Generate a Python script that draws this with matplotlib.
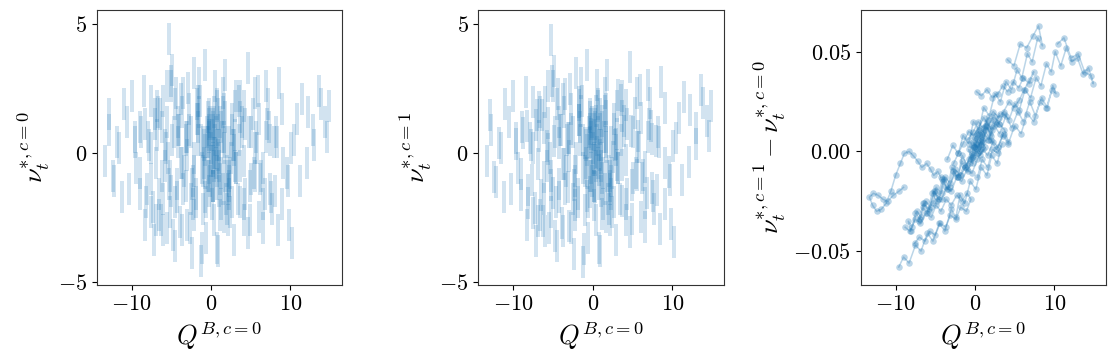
import matplotlib
matplotlib.use("Agg")
import matplotlib.pyplot as plt
import numpy as np
from matplotlib.ticker import MultipleLocator

plt.rcParams["font.family"] = "serif"
plt.rcParams["font.serif"] = ["cmr10"]
plt.rcParams["mathtext.fontset"] = "cm"
plt.rcParams["axes.formatter.use_mathtext"] = True

steps_per_path = 25

q_b = [
    0.0, 0.3, -0.2, 0.5, 0.8, 0.4, 1.0, 1.3, 0.9, 0.2, -0.4, -0.8, -0.3, 0.1, 0.6, 1.2, 1.8, 2.3, 1.9, 1.4, 0.7, 0.0, -0.5, -0.1, 0.4,
    -2.5, -3.1, -3.8, -4.2, -4.9, -5.3, -5.0, -5.6, -6.2, -6.8, -7.3, -7.9, -8.4, -8.1, -7.5, -6.9, -6.4, -5.8, -5.1, -4.6, -4.0, -3.4, -2.8, -2.2, -1.6,
    3.0, 3.6, 4.3, 5.0, 5.6, 6.3, 7.0, 7.7, 8.3, 9.0, 9.6, 10.1, 10.8, 11.5, 12.2, 12.9, 13.6, 14.3, 14.9, 14.6, 13.8, 13.0, 12.1, 11.2, 10.4,
    -9.0, -9.6, -10.3, -11.0, -11.6, -12.2, -12.8, -13.3, -12.9, -12.4, -11.8, -11.2, -10.6, -10.0, -9.4, -8.9, -8.3, -7.8, -7.2, -6.7, -6.1, -5.6, -5.2, -4.7, -4.3,
    -9.6, -9.0, -8.3, -7.5, -6.8, -6.0, -5.3, -4.5, -3.8, -3.0, -2.4, -1.9, -1.3, -0.6, 0.1, 0.8, 1.5, 2.1, 2.8, 3.4, 2.9, 2.2, 1.6, 0.9, 0.3,
    -3.5, -2.8, -2.1, -1.5, -0.8, -0.2, 0.5, 1.1, 1.8, 2.5, 3.2, 3.9, 4.6, 5.3, 5.9, 6.6, 7.2, 7.9, 8.5, 8.0, 7.3, 6.5, 5.7, 4.9, 4.1,
    1.0, 1.7, 2.4, 3.1, 3.9, 4.6, 5.4, 6.1, 6.9, 7.6, 8.4, 9.1, 9.8, 10.2, 9.7, 9.0, 8.2, 7.4, 6.6, 5.8, 5.0, 4.2, 3.5, 2.7, 2.0,
    -1.2, -1.8, -2.5, -3.2, -3.9, -4.5, -5.2, -5.8, -6.5, -7.1, -6.6, -6.0, -5.4, -4.8, -4.1, -3.5, -2.9, -2.2, -1.6, -1.0, -0.4, 0.2, 0.9, 0.4, -0.3,
    -0.6, -0.2, 0.3, 0.7, 1.1, 1.6, 2.0, 2.6, 3.1, 2.7, 2.1, 1.5, 0.9, 0.4, -0.1, -0.7, -1.3, -1.9, -1.4, -0.9, -0.3, 0.2, 0.8, 1.3, 0.6,
    -4.2, -3.6, -3.0, -2.3, -1.7, -1.0, -0.4, 0.3, 1.0, 1.6, 2.3, 2.9, 3.6, 4.2, 3.7, 3.0, 2.4, 1.7, 1.1, 0.5, -0.2, -0.8, -1.5, -2.1, -2.7,
    0.2, 0.8, 1.5, 2.2, 2.9, 3.5, 4.1, 4.8, 5.5, 6.1, 6.8, 7.4, 6.9, 6.2, 5.6, 4.9, 4.3, 3.6, 3.0, 2.3, 1.6, 1.0, 0.4, -0.2, -0.9,
    -7.6, -7.0, -6.3, -5.7, -5.0, -4.4, -3.7, -3.1, -2.4, -1.8, -1.1, -0.5, -1.0, -1.7, -2.3, -3.0, -3.6, -4.3, -4.9, -5.5, -6.2, -6.9, -7.5, -8.2, -8.8,
]

nu_c0 = [
    0.2, 1.1, -0.6, 0.5, -1.2, 1.6, 0.3, -0.8, 0.9, -0.2, 1.4, 0.1, -1.5, 0.7, -0.4, 1.0, -0.9, 0.4, -1.8, 0.6, 1.9, -0.3, 0.8, -1.1, 0.0,
    0.8, -1.3, 2.1, 0.4, 3.2, 4.4, 2.6, 1.2, -0.9, 1.8, -2.1, 0.6, 2.4, -1.4, 0.2, -2.6, 1.5, -0.5, 2.8, -1.9, 0.9, -0.7, 1.7, -2.4, 0.5,
    -0.5, 1.4, -1.6, 0.8, 2.3, -0.9, 1.1, -2.2, 0.4, 1.7, -0.8, 0.2, 1.3, 2.1, 1.6, 0.9, 2.4, 1.2, 1.8, 0.6, 1.9, 0.3, -0.4, -1.1, 0.5,
    -0.8, 0.6, -1.4, 1.9, 0.2, -1.1, 0.9, -0.3, 1.5, -0.9, 0.4, -1.7, 1.2, 2.2, -0.6, 1.0, -2.8, 0.3, -3.4, 1.6, -1.8, 2.6, -2.3, 0.8, -1.2,
    0.4, -1.6, 1.1, -2.3, 0.7, -3.0, -1.2, -3.6, -0.4, -2.8, -3.9, -1.9, -4.2, -3.3, -2.0, -3.7, -1.4, -2.6, 0.3, -1.8, -3.4, -0.9, -2.5, -3.8, -1.3,
    2.3, 0.9, 3.1, 1.6, 3.4, 0.7, 2.6, 1.2, 3.0, -0.2, 2.2, 0.8, 3.3, 1.5, 2.4, -0.6, 1.9, 0.4, 2.7, -1.5, 1.0, -2.0, 0.6, -1.3, 1.8,
    -1.5, 0.4, -2.3, -0.6, 1.2, -3.1, -0.8, -2.5, 0.6, -1.7, -3.0, -0.4, -2.8, -3.5, -1.1, -2.0, 0.8, -1.4, -2.9, 0.2, -1.0, -2.6, 0.5, -1.9, -0.7,
    -0.6, 1.3, -1.8, 0.5, -2.7, 1.9, -0.9, 0.3, -1.6, 1.1, -2.4, 2.0, -0.2, -3.2, 0.9, -1.4, 2.5, -0.7, 1.0, -2.2, 0.4, -1.3, 1.5, -0.5, 0.9,
    -1.9, 0.6, -0.3, 1.8, -1.0, 0.2, -2.2, 1.3, -0.6, 0.9, -1.4, 2.3, -0.1, -2.6, 1.2, -0.8, 0.5, -1.6, 2.0, -0.4, 1.5, -1.3, 0.3, -2.0, 0.8,
    1.2, -0.4, 0.6, -1.1, 2.0, 0.4, -0.9, 1.0, -0.5, 1.7, -1.6, 0.1, 2.2, -0.3, -1.9, 0.7, -0.8, 1.4, -2.4, 0.0, 1.1, -1.7, 2.7, -0.2, -2.9,
    0.9, -0.7, 1.6, -1.3, 0.3, 2.0, -2.0, 0.8, -0.9, 1.3, -1.6, 0.5, 2.6, -1.0, 0.2, -2.6, 1.1, -0.5, 1.8, -1.1, 0.6, -0.2, 1.2, -0.9, 0.3,
    -1.0, 1.5, -2.6, 0.2, -1.5, 2.3, -3.0, 0.6, -1.2, 1.9, -3.7, 0.4, -0.7, 1.3, -2.0, -0.1, 1.6, -1.7, 0.5, -2.9, 1.0, -0.4, 2.0, -1.9, 0.8,
]

# nu(c=1) - nu(c=0)
nu_diff = [
    0.002, 0.007, -0.002, 0.009, 0.004, 0.010, 0.005, 0.013, 0.006, 0.009, -0.003, 0.001, -0.006, 0.004, 0.000, 0.011, 0.006, 0.016, 0.009, 0.013, 0.003, 0.007, -0.004, 0.002, -0.001,
    -0.011, -0.016, -0.013, -0.021, -0.018, -0.026, -0.021, -0.028, -0.025, -0.033, -0.030, -0.038, -0.035, -0.040, -0.031, -0.034, -0.026, -0.029, -0.020, -0.024, -0.015, -0.019, -0.010, -0.013, -0.005,
    0.014, 0.019, 0.016, 0.024, 0.021, 0.031, 0.027, 0.037, 0.033, 0.044, 0.040, 0.050, 0.043, 0.052, 0.045, 0.047, 0.039, 0.042, 0.034, 0.038, 0.040, 0.049, 0.047, 0.057, 0.054,
    -0.018, -0.020, -0.022, -0.025, -0.024, -0.022, -0.021, -0.023, -0.027, -0.030, -0.029, -0.026, -0.020, -0.012, -0.006, -0.001, 0.000, -0.002, -0.005, -0.008, -0.006, -0.009, -0.012, -0.010, -0.013,
    -0.058, -0.053, -0.056, -0.047, -0.050, -0.041, -0.045, -0.036, -0.040, -0.029, -0.033, -0.022, -0.026, -0.015, -0.019, -0.008, -0.012, -0.002, -0.006, 0.004, -0.001, 0.001, -0.008, -0.004, -0.013,
    -0.004, 0.003, -0.001, 0.008, 0.004, 0.015, 0.011, 0.022, 0.018, 0.029, 0.025, 0.035, 0.031, 0.041, 0.037, 0.049, 0.045, 0.057, 0.053, 0.063, 0.058, 0.052, 0.054, 0.043, 0.046,
    0.010, 0.006, 0.013, 0.009, 0.018, 0.012, 0.020, 0.015, 0.025, 0.018, 0.027, 0.022, 0.033, 0.029, 0.031, 0.022, 0.025, 0.015, 0.019, 0.009, 0.013, 0.004, 0.008, 0.001, 0.006,
    -0.008, -0.012, -0.009, -0.018, -0.014, -0.024, -0.020, -0.030, -0.026, -0.035, -0.028, -0.031, -0.021, -0.025, -0.014, -0.019, -0.008, -0.013, -0.002, -0.007, 0.003, -0.001, 0.008, 0.002, 0.005,
    -0.006, -0.001, 0.004, 0.001, 0.007, 0.012, 0.008, 0.014, 0.019, 0.015, 0.011, 0.015, 0.009, 0.006, 0.002, -0.004, -0.008, -0.012, -0.007, -0.010, -0.003, 0.001, 0.005, 0.002, -0.002,
    -0.024, -0.018, -0.020, -0.013, -0.015, -0.009, -0.011, -0.004, 0.001, -0.002, 0.005, 0.002, 0.009, 0.005, 0.011, 0.014, 0.018, 0.013, 0.017, 0.012, 0.008, 0.010, 0.004, -0.001, -0.006,
    0.030, 0.028, 0.031, 0.027, 0.029, 0.033, 0.030, 0.035, 0.032, 0.037, 0.034, 0.040, 0.036, 0.031, 0.026, 0.022, 0.025, 0.020, 0.017, 0.020, 0.016, 0.012, 0.015, 0.010, 0.006,
    -0.046, -0.043, -0.045, -0.040, -0.042, -0.036, -0.038, -0.032, -0.034, -0.028, -0.030, -0.024, -0.021, -0.025, -0.022, -0.027, -0.024, -0.030, -0.027, -0.033, -0.031, -0.036, -0.034, -0.040, -0.038,
]

q_b = np.array(q_b)
nu_c0 = np.array(nu_c0)
nu_diff = np.array(nu_diff)
nu_c1 = nu_c0 + nu_diff

color = "#1f77b4"
# tall thin marker -> vertical streaks like the dense original samples
streak = [(-0.14, -1.0), (0.14, -1.0), (0.14, 1.0), (-0.14, 1.0)]

fig = plt.figure(figsize=(11.13, 3.63), dpi=100)
axes = [
    fig.add_axes([0.0869, 0.2149, 0.2204, 0.7576]),
    fig.add_axes([0.4297, 0.2149, 0.2210, 0.7576]),
    fig.add_axes([0.7733, 0.2149, 0.2204, 0.7576]),
]
ys = [nu_c0, nu_c1, nu_diff]
ylabels = [r"$\nu_t^{*,c=0}$", r"$\nu_t^{*,c=1}$", r"$\nu_t^{*,c=1}-\nu_t^{*,c=0}$"]

n_paths = len(q_b) // steps_per_path
for i, (ax, y, lab) in enumerate(zip(axes, ys, ylabels)):
    if i < 2:
        ax.scatter(q_b, y, s=520, marker=streak, color=color, alpha=0.2, lw=0)
    else:
        for k in range(n_paths):
            s = slice(k * steps_per_path, (k + 1) * steps_per_path)
            ax.plot(q_b[s], y[s], "-", color=color, lw=1.1, alpha=0.3)
        ax.scatter(q_b, y, s=22, color=color, alpha=0.3, lw=0)
    ax.set_xlabel(r"$Q^{B,c=0}$", fontsize=19)
    ax.set_ylabel(lab, fontsize=19)
    ax.tick_params(labelsize=16)
    ax.set_xlim(-14.4, 16.5)
    ax.xaxis.set_major_locator(MultipleLocator(10))
    for sp in ax.spines.values():
        sp.set_color("#333333")

axes[0].set_ylim(-5.13, 5.54)
axes[1].set_ylim(-5.13, 5.54)
axes[0].yaxis.set_major_locator(MultipleLocator(5))
axes[1].yaxis.set_major_locator(MultipleLocator(5))
axes[2].set_ylim(-0.067, 0.071)
axes[2].yaxis.set_major_locator(MultipleLocator(0.05))

fig.savefig("out.png", dpi=100)
